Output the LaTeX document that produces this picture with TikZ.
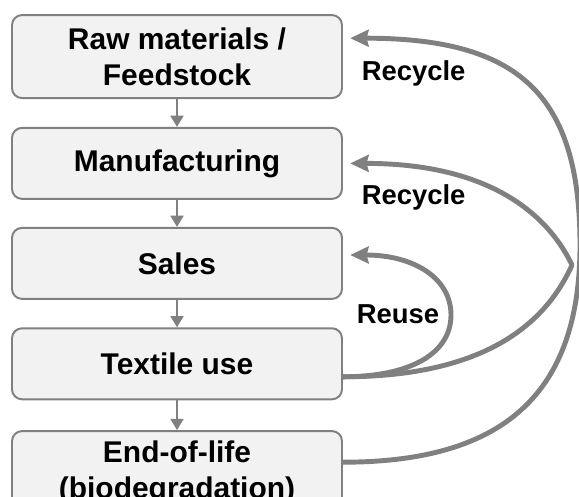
\documentclass[tikz,border=0pt]{standalone}
\usepackage{fontspec}
\setmainfont{Liberation Sans}
\usetikzlibrary{arrows.meta}

\definecolor{boxfill}{RGB}{242,242,242}
\definecolor{linegray}{RGB}{128,128,128}

\begin{document}
\begin{tikzpicture}[
    % Stage box
    stagebox/.style={
        rectangle,
        rounded corners=0.25cm,
        draw=linegray,
        line width=1.4pt,
        fill=boxfill,
        minimum width=8.25cm,
        minimum height=1.775cm,
        align=center,
        font=\bfseries\fontsize{21.3}{25.6}\selectfont
    },
    % Arrow between stages
    flowarrow/.style={
        -{Triangle[length=0.28cm, width=0.32cm]},
        line width=1.7pt,
        draw=linegray
    },
    % Loop back arrow
    looparrow/.style={
        -{Stealth[length=0.46cm, width=0.42cm, inset=0.05cm]},
        line width=3.5pt,
        line join=round,
        draw=linegray
    },
    % Loop label
    looplabel/.style={
        font=\bfseries\fontsize{19.5}{23}\selectfont
    }
]

\useasboundingbox (0,0) rectangle (14.475,12.425);

% === Stages ===
\node[stagebox, minimum height=2.075cm] (raw) at (4.425, 11.01) {Raw materials /\\Feedstock};
\node[stagebox] (manu) at (4.425, 8.34) {Manufacturing};
\node[stagebox] (sales) at (4.425, 5.84) {Sales};
\node[stagebox] (use) at (4.425, 3.33) {Textile use};
\node[stagebox, minimum height=2.075cm] (eol) at (4.425, 0.61) {End-of-life\\(biodegradation)};

% === Arrows between stages ===
\draw[flowarrow] (raw) -- (manu);
\draw[flowarrow] (manu) -- (sales);
\draw[flowarrow] (sales) -- (use);
\draw[flowarrow] (use) -- (eol);

% === Loops ===
\coordinate (rawturn) at (14.5, 6.3);
\coordinate (manuturn) at (14.3, 5.8);
\coordinate (salesturn) at (11.275, 4.55);

\draw[looparrow] ([yshift=0.26cm]eol.east)
    .. controls +(4.05,0) and +(0,-3.69) .. (rawturn)
    .. controls +(0,3.78) and +(4.2,0) .. ([shift={(0.18,0.46)}]raw.east);
\draw[looparrow] ([yshift=-0.325cm]use.east)
    .. controls +(3.45,0) and +(-0.69,-1.54) .. (manuturn)
    .. controls +(-0.67,1.39) and +(3.33,0) .. ([xshift=0.18cm]manu.east);
\draw[looparrow] ([yshift=-0.325cm]use.east)
    .. controls +(1.69,0) and +(0,-0.96) .. (salesturn)
    .. controls +(0,0.93) and +(1.58,0) .. ([shift={(0.18,0.21)}]sales.east);

% === Loop labels ===
\node[looplabel] (recycleraw) at (10.34, 10.58) {Recycle};
\node[looplabel] (recyclemanu) at (10.34, 7.5) {Recycle};
\node[looplabel] (reuse) at (9.95, 4.575) {Reuse};

\end{tikzpicture}
\end{document}
